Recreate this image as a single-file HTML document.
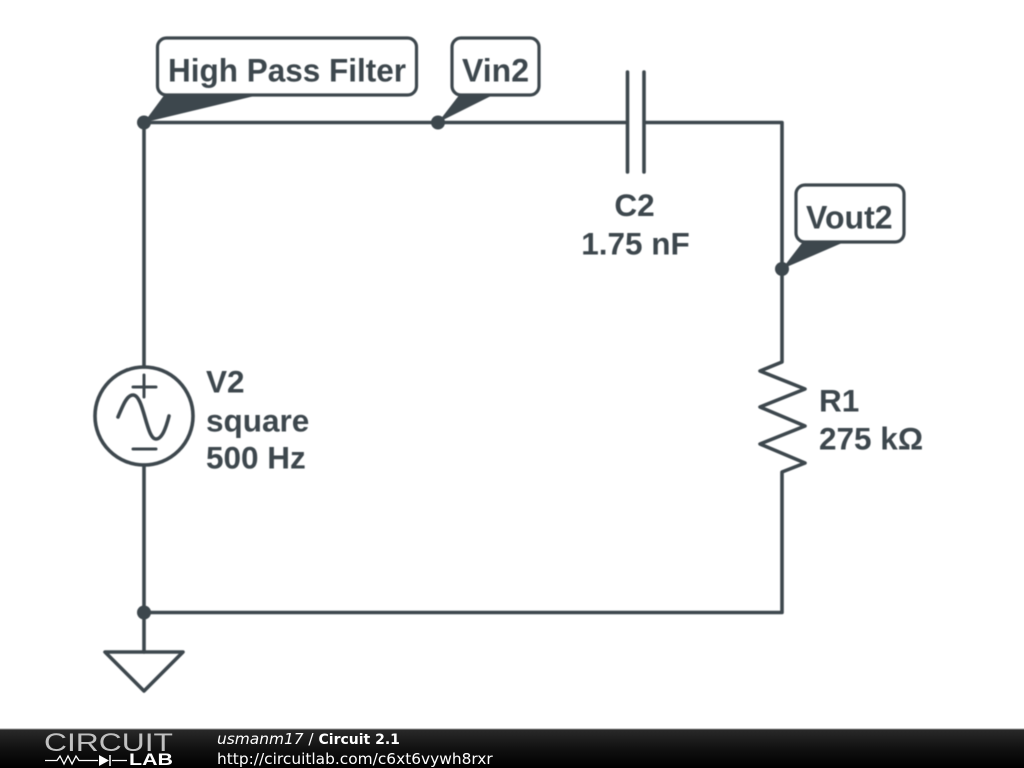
<!DOCTYPE html>
<html>
<head>
<meta charset="utf-8">
<style>
html,body{margin:0;padding:0;background:#fff;width:1024px;height:768px;overflow:hidden}
svg{display:block}
.t{font-family:"Liberation Sans",sans-serif;font-weight:bold;font-size:31.500px;fill:#3d474d}
.l{font-size:32px}
.f{font-family:"DejaVu Sans",sans-serif;font-size:15.400px;fill:#fff}
.soft{filter:blur(0.4px)}
</style>
</head>
<body>
<svg width="1024" height="768" viewBox="0 0 1024 768" xmlns="http://www.w3.org/2000/svg">
<defs>
<linearGradient id="bar" x1="0" y1="0" x2="0" y2="1">
<stop offset="0" stop-color="#2a2a2a"/><stop offset="0.5" stop-color="#111"/><stop offset="1" stop-color="#000"/>
</linearGradient>
</defs>
<rect width="1024" height="768" fill="#fff"/>
<g class="soft">
<g fill="none" stroke="#3d474d" stroke-width="3.6" stroke-linecap="round" stroke-linejoin="round">
<path d="M144 122.500H625M646 122.500H782V362L760 371L805 389L760 407L805 426L760 444L805 463L782 472V612.500H144V652"/>
<path d="M144 122.500V367M144 465V612.500"/>
<path d="M627.500 72V172M644 72V172"/>
<circle cx="144" cy="416" r="49"/>
<path d="M133 387H156M144 375V397M133 449H156" stroke-width="3"/>
<path d="M118 417C123 405 127 395 133 395C144 395 146 439 156 439C162 439 166 428 169 416"/>
<path d="M105 652H183L144 691Z"/>
</g>
<g fill="#3d474d">
<circle cx="144" cy="122.500" r="7"/>
<circle cx="438" cy="122.500" r="7"/>
<circle cx="782" cy="269" r="7"/>
<circle cx="144" cy="612.500" r="7"/>
<path d="M144 122.500L165 94H263Z"/>
<path d="M438 122.500L460 94H495Z"/>
<path d="M782 269L803.500 241H846.600Z"/>
</g>
<g fill="#fff" stroke="#3d474d" stroke-width="3.2">
<rect x="157.500" y="38" width="259" height="57" rx="9"/>
<rect x="452" y="38" width="87" height="57" rx="9"/>
<rect x="796" y="185" width="108" height="57" rx="9"/>
</g>
<text class="t l" x="168" y="81.500" textLength="238" lengthAdjust="spacingAndGlyphs">High Pass Filter</text>
<text class="t l" x="462" y="81.500">Vin2</text>
<text class="t l" x="806" y="228.500">Vout2</text>
<text class="t" x="634.500" y="216" text-anchor="middle">C2</text>
<text class="t" x="635.500" y="254.500" text-anchor="middle">1.75 nF</text>
<text class="t" x="206" y="392.500">V2</text>
<text class="t" x="206" y="431.500">square</text>
<text class="t" x="206" y="468.500">500 Hz</text>
<text class="t" x="819" y="411.500">R1</text>
<text class="t" x="819" y="449.500">275 kΩ</text>
</g>

<rect x="0" y="729" width="1024" height="39" fill="url(#bar)"/>
<rect x="0" y="728.500" width="1024" height="1" fill="#999"/>
<text x="44" y="751" font-family="Liberation Sans,sans-serif" font-size="25" fill="#c0c0c0" textLength="129" lengthAdjust="spacingAndGlyphs">CIRCUIT</text>
<path d="M45 760.500H57L60 756L64 764L68 756L72 764L76 756L79 760.500H98M112 760.500H127" fill="none" stroke="#fff" stroke-width="1.300"/>
<path d="M99 755V766L109 760.500Z" fill="#fff"/>
<path d="M110 755V766" stroke="#fff" stroke-width="1.500"/>
<text x="129" y="765" font-family="Liberation Sans,sans-serif" font-size="17" font-weight="bold" fill="#fff" textLength="44" lengthAdjust="spacingAndGlyphs">LAB</text>
<text class="f" x="217" y="744"><tspan font-style="italic">usmanm17</tspan> / <tspan font-weight="bold" font-size="14">Circuit 2.1</tspan></text>
<text class="f" x="217" y="764">http://circuitlab.com/c6xt6vywh8rxr</text>
</svg>
</body>
</html>
